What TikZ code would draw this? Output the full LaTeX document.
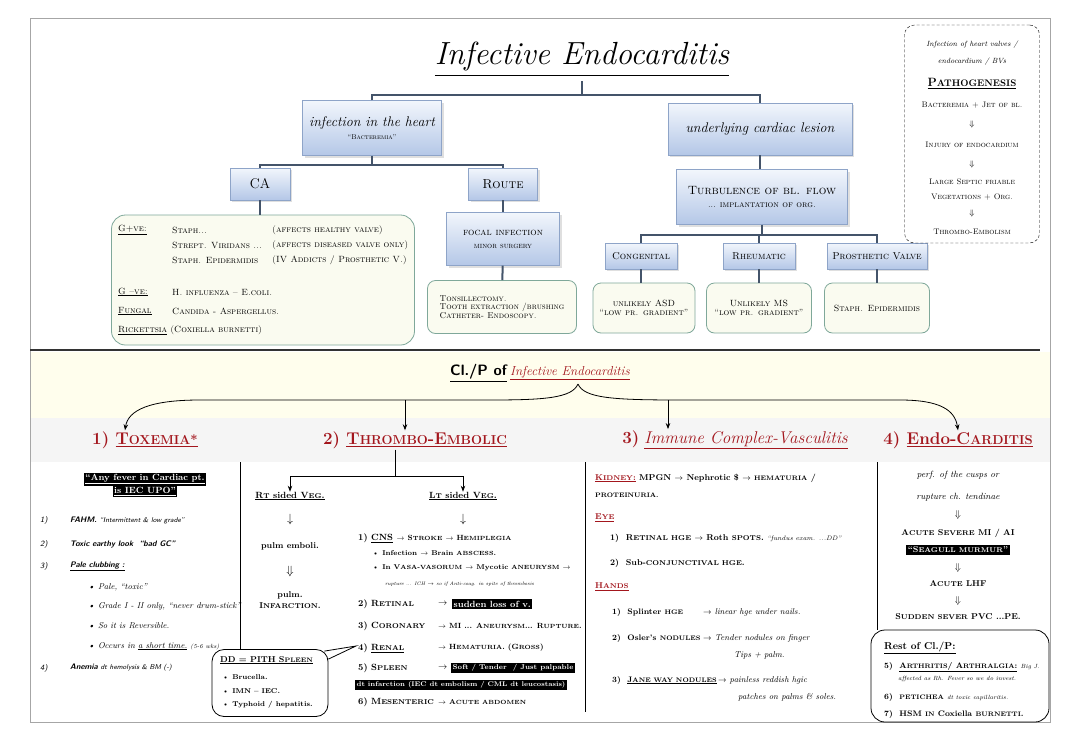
\documentclass[tikz,border=0pt]{standalone}
\usepackage{amsmath,amssymb}
\usepackage{xcolor}
\usepackage{tikz}
\usetikzlibrary{arrows.meta,positioning,shadows}

\definecolor{linkc}{HTML}{44546A}
\definecolor{boxline}{HTML}{8EA4C8}
\definecolor{boxtop}{HTML}{F2F6FC}
\definecolor{boxbot}{HTML}{B4C7E7}
\definecolor{greenline}{HTML}{7FA89A}
\definecolor{greenfill}{HTML}{FAFBF0}
\definecolor{headred}{HTML}{A3161D}
\newcommand{\fsz}[1]{\fontsize{#1}{#1}\selectfont}

\begin{document}
\begin{tikzpicture}[x=1pt,y=-1pt,
  bluebox/.style={draw=boxline,top color=boxtop,bottom color=boxbot,align=center,inner sep=2pt,
    drop shadow={opacity=0.25,shadow xshift=2pt,shadow yshift=-2pt}},
  greenbox/.style={draw=greenline,fill=greenfill,thick,rounded corners=8pt,align=center,inner sep=3pt},
  link/.style={draw=linkc,line width=2pt},
  arr/.style={-{Stealth[length=6pt]},thick},
  txt/.style={anchor=west,inner sep=0pt,font=\fsz{8.5}},
  mid/.style={inner sep=0pt,font=\fsz{8.5}},
  inv/.style={fill=black,text=white,inner sep=1.5pt},
  head/.style={text=headred,inner sep=1pt}
]
\useasboundingbox (0,0) rectangle (1080,750);
\fill[white] (0,0) rectangle (1080,750);
\fill[yellow!7] (30,352) rectangle (1050,462);
\fill[gray!8] (30,418) rectangle (1050,462);
\draw[gray!70,line width=1pt] (30,18) rectangle (1050,722);

% ---- upper tree
\node[font=\itshape\fsz{32}] (title) at (582,60) {\underline{Infective Endocarditis}};
\node[bluebox,minimum width=139,minimum height=55] (inf) at (372,128)
  {{\itshape\fsz{14}infection in the heart}\\[1pt]{\fsz{7}``\textsc{Bacteremia}''}};
\node[bluebox,minimum width=184,minimum height=52] (lesion) at (760,129)
  {{\itshape\fsz{14}underlying cardiac lesion}};
\coordinate (j1) at (582,95);
\draw[link] (title.south) -- (j1);
\draw[link] (inf.north) |- (j1) -| (lesion.north);

\node[bluebox,minimum width=60,minimum height=32] (ca) at (260,184) {\fsz{14}CA};
\node[bluebox,minimum width=69,minimum height=32] (route) at (503,184) {\fsz{13}\textsc{Route}};
\coordinate (j2) at (372,165);
\draw[link] (inf.south) -- (j2);
\draw[link] (ca.north) |- (j2) -| (route.north);

\node[greenbox,minimum width=303,minimum height=130,rounded corners=14pt] (gram) at (263,280) {};
\draw[link] (ca.south) -- (ca.south |- gram.north);
\begin{scope}[every node/.style={txt,font=\fsz{9}}]
\node at (118,230) {\underline{\textsc{G+ve:}}};
\node at (172,230) {\textsc{Staph...}};
\node at (272,230) {\textsc{(affects healthy valve)}};
\node at (172,245) {\textsc{Strept. Viridans ...}};
\node at (272,245) {\textsc{(affects diseased valve only)}};
\node at (172,260) {\textsc{Staph. Epidermidis}};
\node at (272,260) {\textsc{(IV Addicts / Prosthetic V.)}};
\node at (118,292) {\underline{\textsc{G --ve:}}};
\node at (172,292) {\textsc{H. influenza -- E.coli.}};
\node at (118,311) {\underline{\textsc{Fungal}}};
\node at (172,311) {\textsc{Candida - Aspergellus.}};
\node at (118,330) {\underline{\textsc{Rickettsia}} \textsc{(Coxiella burnetti)}};
\end{scope}

\node[bluebox,minimum width=113,minimum height=53] (focal) at (503,239)
  {{\fsz{10}\textsc{focal infection}}\\[1pt]{\fsz{8}\textsc{minor surgery}}};
\node[greenbox,minimum width=149,minimum height=53,align=left,font=\fsz{8.5}] (tons) at (502,307)
  {\textsc{Tonsillectomy.}\\\textsc{Tooth extraction /brushing}\\\textsc{Catheter- Endoscopy.}};
\draw[link] (route) -- (focal);
\draw[link] (focal) -- (tons);

\node[bluebox,minimum width=171,minimum height=55] (turb) at (762,197)
  {{\fsz{12}\textsc{Turbulence of bl. flow}}\\[1pt]{\fsz{9}... \textsc{implantation of org.}}};
\draw[link] (lesion.south) -- (lesion.south |- turb.north);
\node[bluebox,minimum width=72,minimum height=26,font=\fsz{10}] (cong) at (641,256) {\textsc{Congenital}};
\node[bluebox,minimum width=72,minimum height=26,font=\fsz{10}] (rheu) at (759,256) {\textsc{Rheumatic}};
\node[bluebox,minimum width=100,minimum height=26,font=\fsz{10}] (pros) at (877,256) {\textsc{Prosthetic Valve}};
\coordinate (j3) at (762,235);
\draw[link] (turb.south) -- (j3);
\draw[link] (cong.north) |- (j3) -| (pros.north);
\draw[link] (rheu.north) -- (rheu.north |- j3);
\node[greenbox,minimum width=102,minimum height=50,font=\fsz{9}] (asd) at (644,308)
  {\textsc{unlikely ASD}\\``\textsc{low pr. gradient}''};
\node[greenbox,minimum width=105,minimum height=50,font=\fsz{9}] (ms) at (759,308)
  {\textsc{Unlikely MS}\\``\textsc{low pr. gradient}''};
\node[greenbox,minimum width=105,minimum height=50,font=\fsz{9}] (staph) at (877,308)
  {\textsc{Staph. Epidermidis}};
\draw[link] (cong) -- (cong |- asd.north);
\draw[link] (rheu) -- (ms);
\draw[link] (pros) -- (staph);

% ---- pathogenesis card
\node[draw,densely dashed,rounded corners=10pt,minimum width=135,minimum height=218] (patho) at (972,134) {};
\begin{scope}[every node/.style={mid,font=\fsz{8}}]
\node[font=\itshape\fsz{7.5}] at (972,45) {Infection of heart valves /};
\node[font=\itshape\fsz{7.5}] at (972,62) {endocardium / BVs};
\node[font=\bfseries\fsz{12}] at (972,84) {\underline{P{\fsz{9.5}ATHOGENESIS}}};
\node at (972,105) {\textsc{Bacteremia + Jet of bl.}};
\node at (972,124) {$\Downarrow$};
\node at (972,145) {\textsc{Injury of endocardium}};
\node at (972,164) {$\Downarrow$};
\node at (972,182) {\textsc{Large Septic friable}};
\node at (972,197) {\textsc{Vegetations + Org.}};
\node at (972,213) {$\Downarrow$};
\node at (972,232) {\textsc{Thrombo-Embolism}};
\end{scope}

\draw[line width=1.2pt,black!80] (30,350) -- (1040,350);

% ---- clinical picture
\node[inner sep=1pt] (clp) at (540,373)
  {{\sffamily\bfseries\fsz{15}\underline{Cl./P of}}\ {\color{headred}\itshape\fsz{13}\underline{Infective Endocarditis}}};
\coordinate (brace) at (578,384);
\node[head,font=\bfseries\fsz{17}] (tox) at (145,440) {1) \underline{T{\fsz{13}OXEMIA*}}};
\node[head,font=\bfseries\fsz{17}] (thr) at (415,440) {2) \underline{T{\fsz{13}HROMBO}-E{\fsz{13}MBOLIC}}};
\node[head,font=\fsz{17}] (imm) at (735,440) {\textbf{3)} \underline{\itshape Immune Complex-Vasculitis}};
\node[head,font=\bfseries\fsz{17}] (endo) at (958,440) {4) \underline{Endo-C{\fsz{13}ARDITIS}}};
\coordinate (v2) at (405,400);
\coordinate (v3) at (668,400);
\draw[arr] (brace) .. controls (572,398) and (545,400) .. (490,400) -- (200,400)
  .. controls (150,400) and (128,410) .. ([xshift=-20pt]tox.north);
\draw[arr] (brace) .. controls (584,398) and (612,400) .. (680,400) -- (900,400)
  .. controls (940,400) and (955,410) .. (endo.north);
\draw[arr] (v2) -- (v2 |- thr.north);
\draw[arr] (v3) -- (v3 |- imm.north);

% column rules
\draw[thick] (240,462) -- (240,650);
\draw[thick] (585,462) -- (585,712);
\draw[thick] (877,462) -- (877,630);

% 1) toxemia
\node[inv,font=\bfseries\fsz{9}] (fev1) at (145,479) {\underline{``Any fever in Cardiac pt.}};
\node[inv,font=\bfseries\fsz{9},below=0pt of fev1] (fev2) {\underline{is IEC UPO''}};
\begin{scope}[every node/.style={txt,font=\sffamily\itshape\fsz{8}}]
\node at (40,520) {1)};
\node at (70,520) {\textbf{FAHM.} {\fsz{7}``Intermittent \& low grade''}};
\node at (40,544) {2)};
\node at (70,544) {\textbf{Toxic earthy look \ ``bad GC''}};
\node at (40,566) {3)};
\node at (70,566) {\textbf{\underline{Pale clubbing :}}};
\node[font=\rmfamily\itshape\fsz{8.5}] at (88,587) {\textbullet\ Pale, ``toxic''};
\node[font=\rmfamily\itshape\fsz{8.5}] at (88,606) {\textbullet\ Grade I - II only, ``never drum-stick''};
\node[font=\rmfamily\itshape\fsz{8.5}] at (88,626) {\textbullet\ So it is Reversible.};
\node[font=\rmfamily\itshape\fsz{8.5}] at (88,646) {\textbullet\ Occurs in \underline{a short time.} {\fsz{6}(5-6 wks)}};
\node at (40,668) {4)};
\node at (70,668) {\textbf{Anemia} {\fsz{7}dt hemolysis \& BM (-)}};
\end{scope}

% 2) thrombo-embolic
\coordinate (tj) at (395,476);
\node[mid,font=\bfseries\fsz{9}] (rtv) at (290,496) {\underline{R{\fsz{7}T} sided V{\fsz{7}EG}.}};
\node[mid,font=\bfseries\fsz{9}] (ltv) at (463,496) {\underline{L{\fsz{7}T} sided V{\fsz{7}EG}.}};
\draw[thick] (tj |- thr.south) -- (tj);
\draw[arr] (tj) -| (rtv.north);
\draw[arr] (tj) -| (ltv.north);
\node[mid,font=\fsz{12}] (ra1) at (290,519) {$\downarrow$};
\node[mid,font=\bfseries\fsz{8.5}] (pe) at (290,546) {pulm \textsc{emboli.}};
\node[mid,font=\fsz{12}] (ra2) at (290,571) {$\Downarrow$};
\node[mid,font=\bfseries\fsz{8.5},align=center] (pinf) at (290,600) {pulm.\\[2pt]I{\fsz{7}NFARCTION}.};
\node[mid,font=\fsz{12}] (la1) at (463,519) {$\downarrow$};
\begin{scope}[every node/.style={txt,font=\bfseries\fsz{9}}]
\node at (358,538) {1) \underline{CNS} {\fsz{7.5}$\to$ S{\fsz{6}TROKE} $\to$ H{\fsz{6}EMIPLEGIA}}};
\node[font=\bfseries\fsz{7}] at (372,553) {\textbullet\ Infection $\to$ Brain {\fsz{6}ABSCESS}.};
\node[font=\bfseries\fsz{7}] at (372,568) {\textbullet\ In V{\fsz{6}ASA-VASORUM} $\to$ Mycotic {\fsz{6}ANEURYSM} $\to$};
\node[font=\itshape\fsz{5}] at (385,584) {rupture ... ICH $\to$ so if Anti-coag. in spite of thrombosis};
\node at (358,604) {2) R{\fsz{7}ETINAL}};
\node[font=\fsz{9}] at (438,604) {$\to$};
\node[inv,font=\bfseries\fsz{9}] at (452,604) {\textsc{sudden loss of v.}};
\node at (358,626) {3) C{\fsz{7}ORONARY}};
\node[font=\bfseries\fsz{7.5}] at (438,626) {$\to$ MI ... A{\fsz{6}NEURYSM}... R{\fsz{6}UPTURE}.};
\node (renal) at (358,648) {4) \underline{R{\fsz{7}ENAL}}};
\node[font=\bfseries\fsz{7.5}] at (438,648) {$\to$ H{\fsz{6}EMATURIA}. (G{\fsz{6}ROSS})};
\node at (358,668) {5) S{\fsz{7}PLEEN}};
\node[font=\fsz{9}] at (438,668) {$\to$};
\node[inv,font=\bfseries\fsz{7}] at (451,668) {Soft / Tender \ / Just palpable};
\node[inv,font=\bfseries\fsz{6.8}] at (355,685) {dt infarction (IEC dt embolism / CML dt leucostasis)};
\node at (358,702) {6) M{\fsz{7}ESENTERIC}};
\node[font=\bfseries\fsz{7}] at (438,702) {$\to$ A{\fsz{6}CUTE ABDOMEN}};
\end{scope}

% DD callout
\node[draw,thick,rounded corners=12pt,minimum width=116,minimum height=67] (dd) at (270,683) {};
\draw[thick] ([xshift=-4pt,yshift=-2pt]dd.north east) -- ([xshift=-2pt,yshift=2pt]renal.west)
  -- ([yshift=-10pt]dd.north east);
\begin{scope}[every node/.style={txt,font=\bfseries\fsz{7}}]
\node[font=\bfseries\fsz{8.5}] at (220,660) {\underline{DD = PITH S{\fsz{6.5}PLEEN}}};
\node at (222,677) {\textbullet\ Brucella.};
\node at (222,691) {\textbullet\ IMN -- IEC.};
\node at (222,705) {\textbullet\ Typhoid / hepatitis.};
\end{scope}

% 3) immune complex
\begin{scope}[every node/.style={txt,font=\bfseries\fsz{8.5}}]
\node at (595,478) {{\color{headred}\underline{K{\fsz{7}IDNEY}:}} MPGN $\to$ Nephrotic \$ $\to$ {\fsz{6.5}HEMATURIA} /};
\node[font=\bfseries\fsz{6.5}] at (595,495) {PROTEINURIA.};
\node[text=headred] at (595,518) {\underline{E{\fsz{7}YE}}};
\node at (610,538) {1) \ R{\fsz{7}ETINAL HGE} $\to$ Roth {\fsz{7}SPOTS}. {\mdseries\itshape\fsz{6.5}``fundus exam. ...DD''}};
\node at (610,563) {2) \ Sub-{\fsz{7}CONJUNCTIVAL HGE}.};
\node[text=headred] at (595,587) {\underline{H{\fsz{7}ANDS}}};
\node[font=\bfseries\fsz{8}] at (612,612) {1) \ Splinter {\fsz{6.5}HGE}};
\node[font=\bfseries\fsz{8}] at (612,638) {2) \ Osler's {\fsz{6.5}NODULES}};
\node[font=\bfseries\fsz{8}] at (612,680) {3) \ \underline{J{\fsz{6.5}ANE WAY NODULES}}\,{\mdseries\itshape\fsz{8.5}$\to$ painless reddish hgic}};
\node[font=\mdseries\itshape\fsz{8.5}] at (703,612) {$\to$ linear hge under nails.};
\node[font=\mdseries\itshape\fsz{8.5}] at (703,638) {$\to$ Tender nodules on finger};
\node[font=\mdseries\itshape\fsz{8.5}] at (734,655) {Tips + palm.};
\node[font=\mdseries\itshape\fsz{8.5}] at (738,697) {patches on palms \& soles.};
\end{scope}

% 4) endo-carditis
\begin{scope}[every node/.style={mid,font=\bfseries\fsz{8.5}}]
\node[font=\itshape\fsz{9}] at (958,475) {perf. of the cusps or};
\node[font=\itshape\fsz{9}] at (958,497) {rupture ch. tendinae};
\node[font=\fsz{10}] at (958,515) {$\Downarrow$};
\node at (958,533) {A{\fsz{7}CUTE} S{\fsz{7}EVERE} MI / AI};
\node[inv] at (958,550) {``S{\fsz{7}EAGULL MURMUR}''};
\node[font=\fsz{10}] at (958,568) {$\Downarrow$};
\node at (958,584) {A{\fsz{7}CUTE} LHF};
\node[font=\fsz{10}] at (958,601) {$\Downarrow$};
\node at (958,617) {S{\fsz{7}UDDEN SEVER} PVC ...PE.};
\end{scope}
\node[draw,thick,rounded corners=14pt,minimum width=178,minimum height=92] (rest) at (960,676) {};
\begin{scope}[every node/.style={txt,font=\bfseries\fsz{8}}]
\node[font=\bfseries\fsz{10}] at (884,648) {\underline{Rest of Cl./P:}};
\node at (884,667) {5) \ \underline{A{\fsz{6.5}RTHRITIS}/ A{\fsz{6.5}RTHRALGIA}:} {\mdseries\itshape\fsz{6}Big J.}};
\node[font=\itshape\fsz{6}] at (898,679) {affected as Rh. Fever so we do invest.};
\node at (884,697) {6) \ {\fsz{6.5}PETICHEA} {\mdseries\itshape\fsz{6}dt toxic capillaritis.}};
\node at (884,714) {7) \ HSM {\fsz{6.5}IN} Coxiella {\fsz{6.5}BURNETTI}.};
\end{scope}
\end{tikzpicture}
\end{document}
